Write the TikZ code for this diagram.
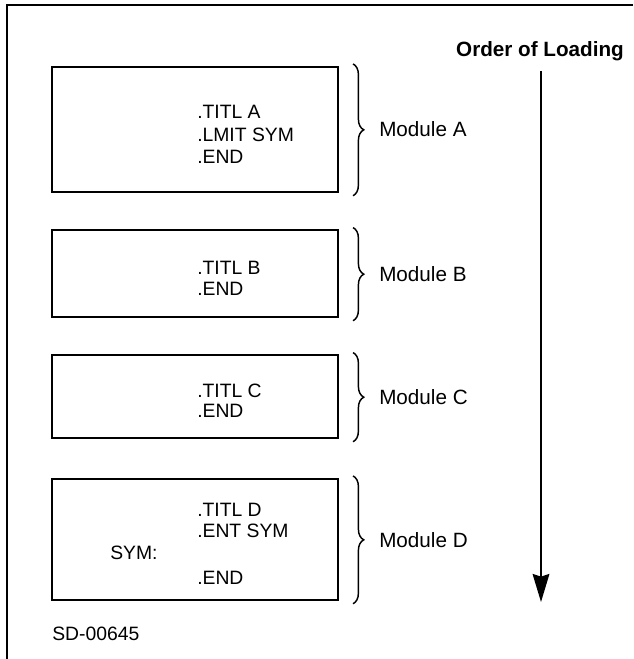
\documentclass[tikz,border=0pt]{standalone}
\usepackage{fontspec}
\setmainfont{Liberation Sans}
\usetikzlibrary{arrows.meta, positioning, decorations.pathreplacing}

\tikzset{
  modbox/.style = {draw, line width=1.6pt, minimum width=214.5pt, inner sep=0pt},
  code/.style = {anchor=base west, inner sep=0pt, font=\fontsize{14.5}{17}\selectfont},
  modlabel/.style = {anchor=base west, inner sep=0pt, font=\fontsize{15.5}{18}\selectfont},
  modbrace/.style = {decorate, decoration={brace, amplitude=8pt}, line width=1.1pt}
}

\begin{document}
\begin{tikzpicture} [x=0.75pt, y=-0.75pt]
        \useasboundingbox [fill=white] (0,0) rectangle (633,659);

        % frame
        \coordinate (fr0) at (7,659);
        \coordinate (fr1) at (7,5);
        \coordinate (fr2) at (633,5);
        \draw [line width=1.6pt] (fr0) -- (fr1) -- (fr2);

        % modules
        \node (boxA) [modbox, minimum height=93.75pt] at (195,129.5) {};
        \node (boxB) [modbox, minimum height=65.25pt] at (195,273.5) {};
        \node (boxC) [modbox, minimum height=62.25pt] at (195,396.5) {};
        \node (boxD) [modbox, minimum height=90.75pt] at (195,539.5) {};

        \node (a1) [code] at (197,119) {.TITL A};
        \node (a2) [code] at (197,142) {.LMIT SYM};
        \node (a3) [code] at (197,164) {.END};
        \node (b1) [code] at (197,274) {.TITL B};
        \node (b2) [code] at (197,295) {.END};
        \node (c1) [code] at (197,397) {.TITL C};
        \node (c2) [code] at (197,417) {.END};
        \node (d1) [code] at (197,516) {.TITL D};
        \node (d2) [code] at (197,537) {.ENT SYM};
        \node (d3) [code] at (110,559) {SYM:};
        \node (d4) [code] at (197,584) {.END};

        % braces
        \draw [modbrace] ([xshift=10.5pt, yshift=1.5pt]boxA.north east) -- ([xshift=10.5pt, yshift=-2pt]boxA.south east);
        \draw [modbrace] ([xshift=10.5pt, yshift=1pt]boxB.north east) -- ([xshift=10.5pt, yshift=-2pt]boxB.south east);
        \draw [modbrace] ([xshift=10.5pt, yshift=1pt]boxC.north east) -- ([xshift=10.5pt, yshift=-2pt]boxC.south east);
        \draw [modbrace] ([xshift=10.5pt, yshift=1.5pt]boxD.north east) -- ([xshift=10.5pt, yshift=-2pt]boxD.south east);

        \node (modA) [modlabel] at (379,137) {Module A};
        \node (modB) [modlabel] at (379,281) {Module B};
        \node (modC) [modlabel] at (379,404) {Module C};
        \node (modD) [modlabel] at (379,547) {Module D};

        % loading order
        \node (order) [anchor=base, inner sep=0pt, font=\fontsize{15.5}{18}\selectfont\bfseries] at (540,57) {Order of Loading};
        \coordinate (arrtop) at (541,71);
        \coordinate (arrend) at (541,602);
        \draw [-{Stealth[length=21pt, width=12.5pt, inset=2pt]}, line width=1.5pt] (arrtop) -- (arrend);

        \node (fig) [code] at (52,640) {SD-00645};
    \end{tikzpicture}
\end{document}
